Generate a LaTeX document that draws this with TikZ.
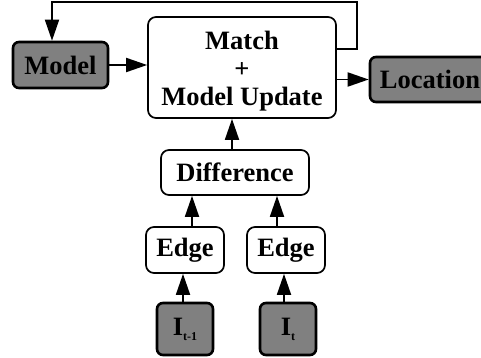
\documentclass[tikz,border=0pt]{standalone}
\usepackage{fontspec}
\setmainfont{Liberation Serif}
\usetikzlibrary{arrows.meta}
\tikzset{
  lbl/.style={font=\fontsize{26.5}{28}\selectfont\bfseries, align=center, inner sep=0pt},
  procbox/.style={lbl, draw=black, line width=1.7pt, rounded corners=8pt, fill=white},
  databox/.style={lbl, draw=black, line width=2.6pt, rounded corners=6pt, fill=black!50},
  flow/.style={line width=1.8pt, -{Triangle[length=21pt,width=14pt]}},
}
\begin{document}
\begin{tikzpicture}[x=1pt,y=-1pt]
\useasboundingbox (0,0) rectangle (481,358);
% processing stages
\node[procbox, minimum width=188pt, minimum height=101pt] (main) at (242,67.5) {};
\node[lbl] (mainlbl) at (242,71) {Match\\+\\Model Update};
\node[procbox, minimum width=148pt, minimum height=45pt] (diff) at (235,172.5) {Difference};
\node[procbox, minimum width=78pt, minimum height=46pt] (edgeL) at (185,250) {Edge};
\node[procbox, minimum width=78pt, minimum height=46pt] (edgeR) at (286,250) {Edge};
% data blocks
\node[databox, minimum width=95pt, minimum height=46pt] (model) at (60.5,65) {Model};
\node[databox, minimum width=120pt, minimum height=45pt] (loc) at (430,79.5) {Location};
\node[databox, minimum width=56pt, minimum height=52pt] (imgA) at (185,329)
  {I\raisebox{-0.4ex}{\fontsize{12}{12}\selectfont t-1}};
\node[databox, minimum width=56pt, minimum height=52pt] (imgB) at (288,329)
  {I\raisebox{-0.4ex}{\fontsize{12}{12}\selectfont t}};
% feedback loop route
\coordinate (fbA) at (main.east |- 0,49);
\coordinate (fbB) at (357,49);
\coordinate (fbC) at (357,2);
\coordinate (fbD) at (52,2);
\coordinate (fbE) at (52,0 |- model.north);
\draw[flow] (fbA) -- (fbB) -- (fbC) -- (fbD) -- (fbE);
% forward connections
\draw[flow] (model.east) -- (main.west |- model.east);
\draw[flow] (main.east |- loc.west) -- (loc.west);
\draw[flow] (diff.north -| 232,0) -- (main.south -| 232,0);
\draw[flow] (edgeL.north -| 192,0) -- (diff.south -| 192,0);
\draw[flow] (edgeR.north -| 277,0) -- (diff.south -| 277,0);
\draw[flow] (imgA.north -| 183,0) -- (edgeL.south -| 183,0);
\draw[flow] (imgB.north -| 284,0) -- (edgeR.south -| 284,0);
\end{tikzpicture}
\end{document}
